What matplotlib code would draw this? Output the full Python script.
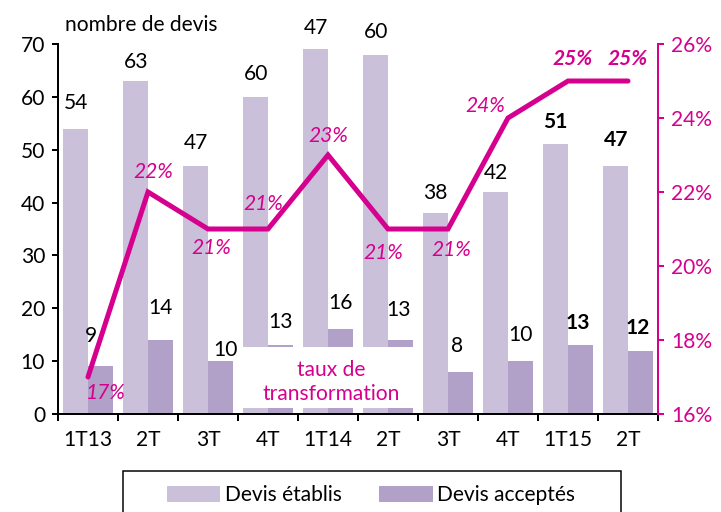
import numpy as np
import matplotlib
matplotlib.use("Agg")
import matplotlib.pyplot as plt
from matplotlib.patches import Rectangle
from matplotlib.ticker import FuncFormatter, MultipleLocator

plt.rcParams['font.family'] = ['Lato', 'DejaVu Sans']

# Données
trimestres = ["1T13", "2T", "3T", "4T", "1T14", "2T", "3T", "4T", "1T15", "2T"]
devis_etablis = [54, 63, 47, 60, 69, 68, 38, 42, 51, 47]
devis_acceptes = [9, 14, 10, 13, 16, 14, 8, 10, 13, 12]
taux = [0.17, 0.22, 0.21, 0.21, 0.23, 0.21, 0.21, 0.24, 0.25, 0.25]

# textes des étiquettes (tels qu'affichés)
etiq_etablis = ["54", "63", "47", "60", "47", "60", "38", "42", "51", "47"]
etiq_acceptes = ["9", "14", "10", "13", "16", "13", "8", "10", "13", "12"]
etiq_taux = ["17%", "22%", "21%", "21%", "23%", "21%", "21%", "24%", "25%", "25%"]
gras = [False] * 8 + [True, True]

# décalages des étiquettes (points)
dy_etablis = [26, 19, 23, 23, 21, 23, 20, 19, 22, 26]
dxy_acceptes = [(-9, 30), (0, 32), (5, 11), (0, 23), (0, 26), (-2, 30), (-3, 26), (0, 26), (-2, 22), (-3, 23)]
dxy_taux = [(18, -16), (5, 20), (3, -19), (-5, 25), (0, 19), (-5, -24), (3, -21), (-23, 12), (5, 22), (0, 22)]

c_clair = "#CBC0DA"
c_fonce = "#B1A0C7"
c_magenta = "#D6008F"
fs = 21

W, H = 721, 512
fig = plt.figure(figsize=(W / 72, H / 72), dpi=72)
ax = fig.add_axes([58 / W, 1 - 414 / H, 600 / W, 370 / H])
ax2 = ax.twinx()

x = np.arange(len(trimestres))
larg = 0.41
ax.bar(x, devis_etablis, width=-larg, align='edge', color=c_clair, zorder=2)
ax.bar(x, devis_acceptes, width=larg, align='edge', color=c_fonce, zorder=2)

ax.set_xlim(-0.5, 9.5)
ax.set_ylim(0, 70)
ax.yaxis.set_major_locator(MultipleLocator(10))
ax.set_xticks(np.arange(-0.5, 10, 1))
ax.set_xticklabels([])
ax.set_xticks(x, minor=True)
ax.set_xticklabels(trimestres, minor=True)
ax.tick_params(axis='x', which='major', direction='out', length=7, width=2, color='black')
ax.tick_params(axis='x', which='minor', length=0, pad=16, labelsize=fs)
ax.tick_params(axis='y', direction='out', length=6, width=2, labelsize=fs, pad=7)
for s in ['top', 'right']:
    ax.spines[s].set_visible(False)
ax.spines['left'].set_linewidth(2)
ax.spines['bottom'].set_linewidth(2)

# étiquettes des barres
for i in range(len(x)):
    fw = 'bold' if gras[i] else 'normal'
    ax.annotate(etiq_etablis[i], (x[i] - larg / 2, devis_etablis[i]), xytext=(0, dy_etablis[i]),
                textcoords='offset points', ha='center', va='center', fontsize=fs, fontweight=fw, zorder=5)
    ax.annotate(etiq_acceptes[i], (x[i] + larg / 2, devis_acceptes[i]), xytext=dxy_acceptes[i],
                textcoords='offset points', ha='center', va='center', fontsize=fs, fontweight=fw, zorder=5)

# encadré "taux de transformation"
ax.add_patch(Rectangle((2.55, 1.1), 2.9, 11.6, facecolor='white', edgecolor='none', zorder=4))
ax.text(4.05, 6.0, "taux de\ntransformation", color=c_magenta, fontsize=fs, ha='center', va='center',
        linespacing=1.25, zorder=5)

# courbe du taux de transformation
ax2.plot(x, taux, color=c_magenta, linewidth=5, solid_capstyle='round', solid_joinstyle='miter')
ax2.set_ylim(0.16, 0.26)
ax2.yaxis.set_major_locator(MultipleLocator(0.02))
ax2.yaxis.set_major_formatter(FuncFormatter(lambda v, p: f"{v * 100:.0f}%"))
ax2.tick_params(axis='y', direction='out', length=6, width=2, colors=c_magenta, labelsize=fs, pad=7)
for s in ['top', 'left', 'bottom']:
    ax2.spines[s].set_visible(False)
ax2.spines['right'].set_color(c_magenta)
ax2.spines['right'].set_linewidth(2)

for i in range(len(x)):
    ax2.annotate(etiq_taux[i], (x[i], taux[i]), xytext=dxy_taux[i], textcoords='offset points',
                 ha='center', va='center', fontsize=fs, color=c_magenta, style='italic',
                 fontweight='bold' if gras[i] else 'normal')

fig.text(65 / W, 1 - 25 / H, "nombre de devis", fontsize=fs, ha='left', va='center')

# légende
fig.patches.append(Rectangle((123 / W, -10 / H), 498 / W, (1 - 471 / H) + 10 / H, transform=fig.transFigure,
                             facecolor='white', edgecolor='black', linewidth=1.5, figure=fig))
h1 = Rectangle((0, 0), 1, 1, color=c_clair)
h2 = Rectangle((0, 0), 1, 1, color=c_fonce)
fig.legend([h1, h2], ["Devis établis", "Devis acceptés"], loc='center', bbox_to_anchor=(371 / W, 1 - 495 / H),
           ncol=2, frameon=False, fontsize=fs, handlelength=2.5, handleheight=0.7, handletextpad=0.25,
           columnspacing=1.8)

fig.savefig("out.png", dpi=72)
